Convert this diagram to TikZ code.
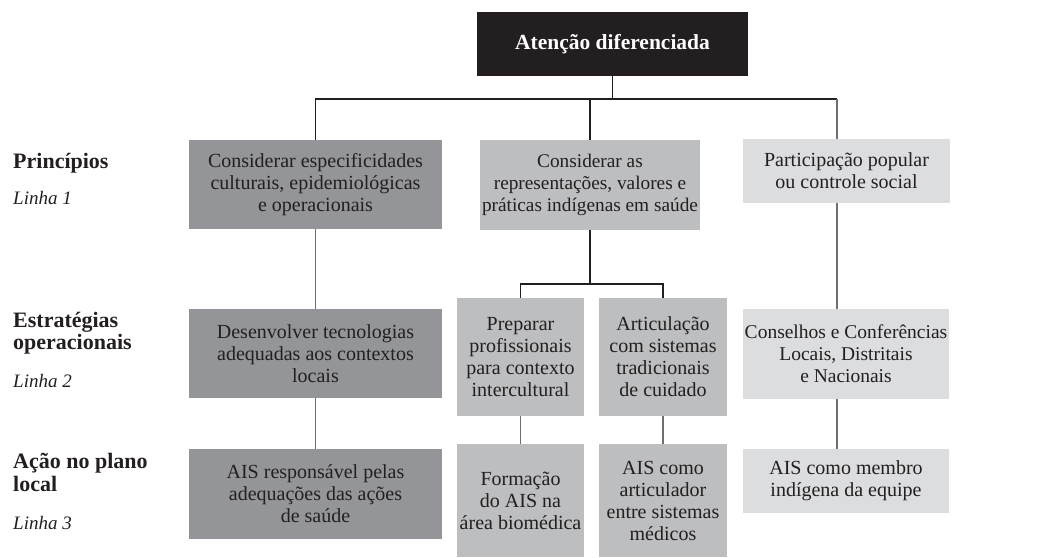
\documentclass[tikz,border=0pt]{standalone}
\usepackage{fontspec}
\setmainfont{Liberation Serif}
\definecolor{ink}{HTML}{231F20}
\definecolor{gdark}{HTML}{939598}
\definecolor{gmid}{HTML}{BCBEC0}
\definecolor{glight}{HTML}{DCDDDF}
\definecolor{lgray}{HTML}{6D6E71}
\tikzset{
  box/.style={inner sep=0pt, align=center, text=ink, font=\fontsize{20}{22}\selectfont},
  topbox/.style={inner sep=0pt, fill=ink, text=white, font=\bfseries\fontsize{21.5}{24}\selectfont, minimum width=271, minimum height=64},
  lab/.style={anchor=base west, inner sep=0pt, text=ink, font=\bfseries\fontsize{22}{24}\selectfont},
  linha/.style={anchor=base west, inner sep=0pt, text=ink, font=\itshape\fontsize{19}{22}\selectfont},
  dk/.style={line width=1.4pt, draw=ink},
  gy/.style={line width=1.7pt, draw=lgray},
}
\begin{document}
\begin{tikzpicture}[x=1pt,y=-1pt]
\useasboundingbox (0,0) rectangle (1041,557);
% top
\node[topbox] (top) at (612.5,44) {Atenção diferenciada};
% row 1
\node[box, fill=gdark, minimum width=253, minimum height=89] (A1) at (315.5,184.5) {Considerar especificidades\\culturais, epidemiológicas\\e operacionais};
\node[box, fill=gmid, minimum width=220, minimum height=90, font=\fontsize{19.3}{22}\selectfont] (B1) at (590,185) {Considerar as\\representações, valores e\\práticas indígenas em saúde};
\node[box, fill=glight, minimum width=207, minimum height=64] (C1) at (846.5,171) {Participação popular\\ou controle social};
% row 2
\node[box, fill=gdark, minimum width=253, minimum height=89] (A2) at (315.5,353.5) {Desenvolver tecnologias\\adequadas aos contextos\\locais};
\node[box, fill=gmid, minimum width=127, minimum height=118] (B2a) at (520.5,357) {Preparar\\profissionais\\para contexto\\intercultural};
\node[box, fill=gmid, minimum width=128, minimum height=118] (B2b) at (663,357) {Articulação\\com sistemas\\tradicionais\\de cuidado};
\node[box, fill=glight, minimum width=206, minimum height=90, font=\fontsize{19.5}{22}\selectfont] (C2) at (846,354) {Conselhos e Conferências\\Locais, Distritais\\e Nacionais};
% row 3
\node[box, fill=gdark, minimum width=253, minimum height=90] (A3) at (315.5,494) {AIS responsável pelas\\adequações das ações\\de saúde};
\node[box, fill=gmid, minimum width=127, minimum height=113] (B3a) at (520.5,500.5) {Formação\\do AIS na\\área biomédica};
\node[box, fill=gmid, minimum width=128, minimum height=113] (B3b) at (663,500.5) {AIS como\\articulador\\entre sistemas\\médicos};
\node[box, fill=glight, minimum width=206, minimum height=64] (C3) at (846,481) {AIS como membro\\indígena da equipe};
% left labels
\node[lab] (l1) at (13,168) {Princípios};
\node[linha] (k1) at (13,204) {Linha 1};
\node[lab] (l2a) at (13,327) {Estratégias};
\node[lab] (l2b) at (13,349) {operacionais};
\node[linha] (k2) at (13,387) {Linha 2};
\node[lab] (l3a) at (13,468) {Ação no plano};
\node[lab] (l3b) at (13,491) {local};
\node[linha] (k3) at (13,529) {Linha 3};
% connector helpers
\coordinate (h) at (0,99);
\coordinate (cx) at (837,0);
\coordinate (hb) at (0,284);
% connectors
\draw[dk] (top.south) -- (top.south |- h);
\draw[dk] (A1.north) -- (A1.north |- h) -- (cx |- h);
\draw[dk] (B1.north) -- (B1.north |- h);
\draw[gy] (cx |- h) -- (cx |- C1.north);
\draw[gy] (A1.south) -- (A2.north);
\draw[gy] (A2.south) -- (A3.north);
\draw[dk] (B1.south) -- (B1.south |- hb);
\draw[dk] (B2a.north) -- (B2a.north |- hb) -- (B2b.north |- hb) -- (B2b.north);
\draw[gy] (B2a.south) -- (B3a.north);
\draw[gy] (B2b.south) -- (B3b.north);
\draw[gy] (cx |- C1.south) -- (cx |- C2.north);
\draw[gy] (cx |- C2.south) -- (cx |- C3.north);
\end{tikzpicture}
\end{document}
